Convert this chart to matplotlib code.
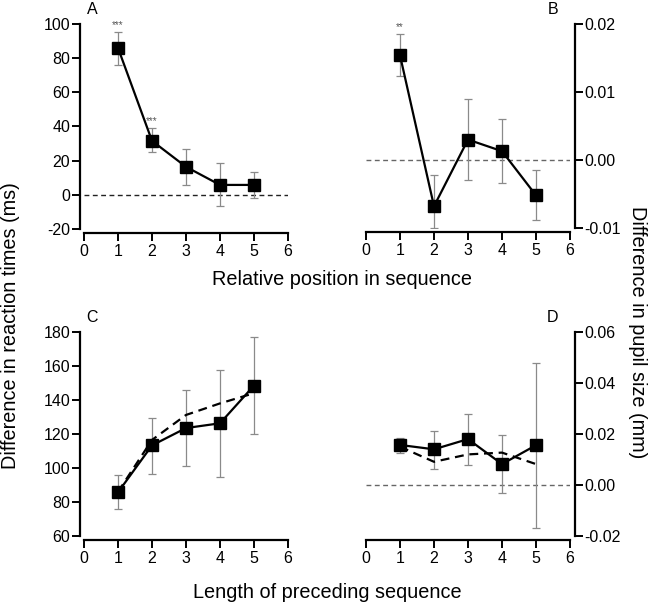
import matplotlib
matplotlib.use("Agg")
import matplotlib.pyplot as plt
import numpy as np

plt.rcParams['font.family'] = ['Liberation Sans', 'DejaVu Sans']

x = [1, 2, 3, 4, 5]

# Panel A: RT difference by relative position
a_mean = [86.0, 31.6, 16.4, 5.8, 5.8]
a_lo = [75.8, 24.8, 5.7, -6.6, -1.7]
a_hi = [95.5, 39.0, 27.0, 18.4, 13.5]
a_sig = ['***', '***', '', '', '']

# Panel B: pupil difference by relative position
b_mean = [0.0154, -0.0068, 0.0030, 0.0013, -0.0052]
b_lo = [0.0123, -0.0100, -0.0030, -0.0034, -0.0088]
b_hi = [0.0185, -0.0022, 0.0090, 0.0060, -0.0014]
b_sig = ['**', '', '', '', '']

# Panel C: RT difference by length of preceding sequence
c_mean = [85.7, 113.3, 123.5, 126.3, 148.5]
c_lo = [76.1, 96.6, 101.4, 94.6, 120.0]
c_hi = [95.6, 129.4, 145.8, 157.7, 176.9]
c_fit = [86.0, 116.5, 131.2, 138.0, 144.0]

# Panel D: pupil difference by length of preceding sequence
d_mean = [0.0157, 0.0140, 0.0180, 0.0082, 0.0156]
d_lo = [0.0127, 0.0063, 0.0078, -0.0031, -0.0170]
d_hi = [0.0184, 0.0213, 0.0277, 0.0196, 0.0478]
d_fit = [0.0150, 0.0091, 0.0120, 0.0127, 0.0082]

xticks = [0, 1, 2, 3, 4, 5, 6]
a_yticks = [-20, 0, 20, 40, 60, 80, 100]
b_yticks = [-0.01, 0.00, 0.01, 0.02]
c_yticks = [60, 80, 100, 120, 140, 160, 180]
d_yticks = [-0.02, 0.00, 0.02, 0.04, 0.06]

W, H = 650, 605
fig = plt.figure(figsize=(6.5, 6.05), dpi=100)

def px_axes(x0, x1, ytop, ybot):
    return fig.add_axes([x0 / W, 1 - ybot / H, (x1 - x0) / W, (ybot - ytop) / H])

axA = px_axes(84, 288, 24, 229)
axB = px_axes(366, 570, 24, 228)
axC = px_axes(84, 288, 332, 536)
axD = px_axes(366, 570, 332, 536)

ecol = '#8a8a8a'

def draw(ax, mean, lo, hi, yticks, ylim, fmt, side, refcol, fit=None, sig=None):
    ax.set_xlim(0, 6)
    ax.set_ylim(*ylim)
    ax.axhline(0, color=refcol, lw=1.0, ls=(0, (3.5, 2.5)), zorder=1)
    yerr = [np.array(mean) - np.array(lo), np.array(hi) - np.array(mean)]
    ax.errorbar(x, mean, yerr=yerr, fmt='none', ecolor=ecol, elinewidth=0.9,
                capsize=3.2, capthick=0.9, zorder=2)
    if fit is not None:
        ax.plot(x, fit, color='black', lw=1.6, ls=(0, (4, 2.6)), zorder=3)
    ax.plot(x, mean, color='black', lw=1.6, marker='s', ms=8.6, mfc='black',
            mec='black', zorder=4)
    if sig is not None:
        for xi, h, s in zip(x, hi, sig):
            if s:
                ax.annotate(s, (xi, h), xytext=(0, 1.5), textcoords='offset points',
                            ha='center', va='bottom', fontsize=7, color='#555555')
    ax.set_xticks(xticks)
    ax.set_yticks(yticks)
    ax.set_yticklabels([fmt.format(v) for v in yticks])
    ax.spines['top'].set_visible(False)
    if side == 'left':
        ax.spines['right'].set_visible(False)
        ax.spines['left'].set_position(('outward', 3))
        ax.yaxis.tick_left()
    else:
        ax.spines['left'].set_visible(False)
        ax.spines['right'].set_position(('outward', 3.6))
        ax.yaxis.tick_right()
    ax.spines['bottom'].set_position(('outward', 3))
    for s in ['left', 'right', 'bottom']:
        ax.spines[s].set_linewidth(1.6)
    ax.tick_params(axis='both', direction='out', length=5.5, width=1.4,
                   labelsize=11.5, pad=1.5, colors='black')
    ax.tick_params(axis='x', pad=2.5)
    ax.patch.set_alpha(0)

draw(axA, a_mean, a_lo, a_hi, a_yticks, (-20, 100), '{:.0f}', 'left', '#222222', sig=a_sig)
draw(axB, b_mean, b_lo, b_hi, b_yticks, (-0.01, 0.02), '{:.2f}', 'right', '#666666', sig=b_sig)
draw(axC, c_mean, c_lo, c_hi, c_yticks, (60, 180), '{:.0f}', 'left', '#222222', fit=c_fit)
draw(axD, d_mean, d_lo, d_hi, d_yticks, (-0.02, 0.06), '{:.2f}', 'right', '#666666', fit=d_fit)

def ftxt(px, py, s, **kw):
    fig.text(px / W, 1 - py / H, s, **kw)

ftxt(92, 10, 'A', fontsize=11.5, ha='center', va='center')
ftxt(553, 10, 'B', fontsize=11.5, ha='center', va='center')
ftxt(92, 318, 'C', fontsize=11.5, ha='center', va='center')
ftxt(553, 318, 'D', fontsize=11.5, ha='center', va='center')

ftxt(342, 279, 'Relative position in sequence', fontsize=14.3, ha='center', va='center')
ftxt(327, 592, 'Length of preceding sequence', fontsize=14.3, ha='center', va='center')
ftxt(11, 326, 'Difference in reaction times (ms)', fontsize=14.3, ha='center',
     va='center', rotation=90)
ftxt(637, 332, 'Difference in pupil size (mm)', fontsize=14.3, ha='center',
     va='center', rotation=270)

fig.savefig('out.png', dpi=100)
